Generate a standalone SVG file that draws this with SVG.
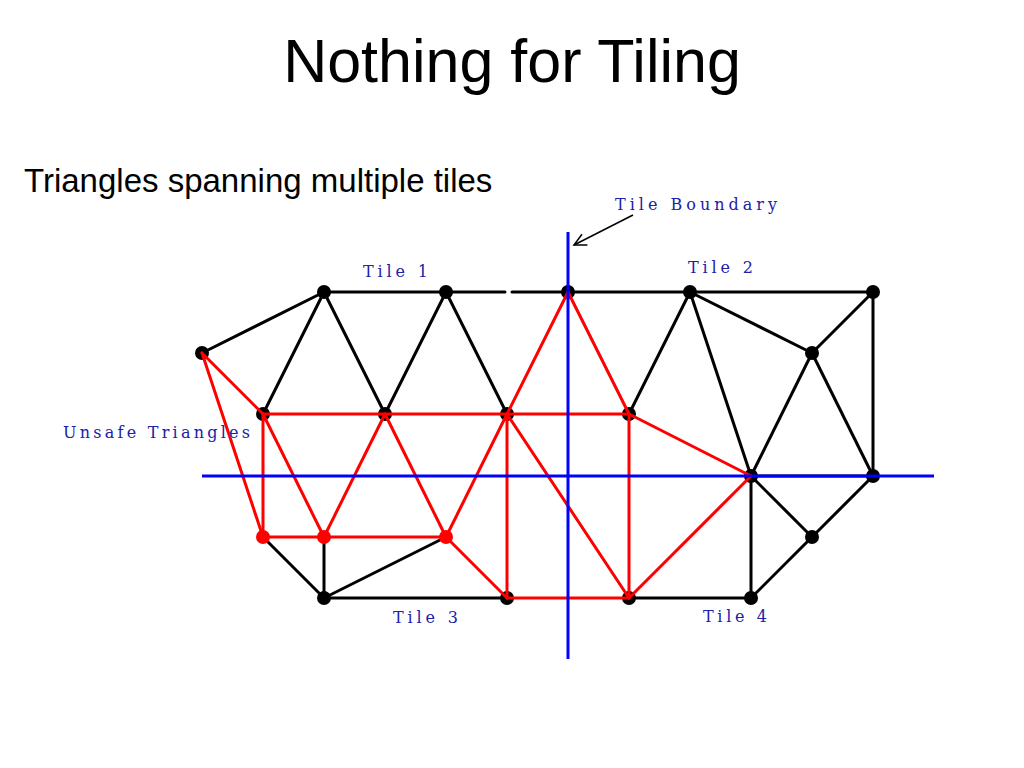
<svg xmlns="http://www.w3.org/2000/svg" width="1024" height="768" viewBox="0 0 1024 768">
<defs>
<style>
.title{font-family:"Liberation Sans",Arial,sans-serif;font-size:61px;fill:#000}
.sub{font-family:"Liberation Sans",Arial,sans-serif;font-size:33px;fill:#000}
.lbl{font-family:"DejaVu Serif","Liberation Serif",serif;font-size:16px;fill:#2020a8}
.bk{stroke:#000;stroke-width:3;fill:none;stroke-linecap:round}
.rd{stroke:#ff0000;stroke-width:3;fill:none;stroke-linecap:round}
.bl{stroke:#0000ff;stroke-width:3;fill:none}
.nb{fill:#000}
.nr{fill:#ff0000}
</style>
<marker id="arr" markerWidth="16" markerHeight="16" refX="14" refY="7" orient="auto" markerUnits="userSpaceOnUse">
<path d="M2,1 L14,7 L2,13" fill="none" stroke="#000" stroke-width="1.5"/>
</marker>
</defs>
<rect width="1024" height="768" fill="#fff"/>
<text class="title" x="512" y="82" text-anchor="middle">Nothing for Tiling</text>
<text class="sub" x="24" y="192">Triangles spanning multiple tiles</text>

<g id="connectors">
<g id="black-edges" class="bk">
<line x1="202" y1="353" x2="324" y2="292"/>
<line x1="324" y1="292" x2="446" y2="292"/>
<line x1="446" y1="292" x2="505" y2="292"/>
<line x1="512" y1="292" x2="568" y2="292"/>
<line x1="568" y1="292" x2="690" y2="292"/>
<line x1="690" y1="292" x2="873" y2="292"/>
<line x1="324" y1="292" x2="263" y2="414"/>
<line x1="324" y1="292" x2="385" y2="414"/>
<line x1="446" y1="292" x2="385" y2="414"/>
<line x1="446" y1="292" x2="507" y2="414"/>
<line x1="690" y1="292" x2="629" y2="414"/>
<line x1="690" y1="292" x2="751" y2="476"/>
<line x1="690" y1="292" x2="812" y2="353"/>
<line x1="873" y1="292" x2="812" y2="353"/>
<line x1="873" y1="292" x2="873" y2="476"/>
<line x1="812" y1="353" x2="751" y2="476"/>
<line x1="812" y1="353" x2="873" y2="476"/>
<line x1="751" y1="476" x2="873" y2="476"/>
<line x1="751" y1="476" x2="751" y2="598"/>
<line x1="751" y1="476" x2="812" y2="537"/>
<line x1="812" y1="537" x2="873" y2="476"/>
<line x1="812" y1="537" x2="751" y2="598"/>
<line x1="263" y1="537" x2="324" y2="598"/>
<line x1="324" y1="537" x2="324" y2="598"/>
<line x1="446" y1="537" x2="324" y2="598"/>
<line x1="324" y1="598" x2="507" y2="598"/>
<line x1="629" y1="598" x2="751" y2="598"/>
</g>
</g>

<g id="black-nodes">
<circle id="nA" class="nb" cx="202" cy="353" r="7"/>
<circle id="nB" class="nb" cx="324" cy="292" r="7"/>
<circle id="nC" class="nb" cx="446" cy="292" r="7"/>
<circle id="nD" class="nb" cx="568" cy="292" r="7"/>
<circle id="nE" class="nb" cx="690" cy="292" r="7"/>
<circle id="nF" class="nb" cx="873" cy="292" r="7"/>
<circle id="nG" class="nb" cx="812" cy="353" r="7"/>
<circle id="nH" class="nb" cx="263" cy="414" r="7"/>
<circle id="nI" class="nb" cx="385" cy="414" r="7"/>
<circle id="nJ" class="nb" cx="507" cy="414" r="7"/>
<circle id="nK" class="nb" cx="629" cy="414" r="7"/>
<circle id="nL" class="nb" cx="751" cy="476" r="7"/>
<circle id="nM" class="nb" cx="873" cy="476" r="7"/>
<circle id="nQ" class="nb" cx="812" cy="537" r="7"/>
<circle id="nR" class="nb" cx="324" cy="598" r="7"/>
<circle id="nS" class="nb" cx="507" cy="598" r="7"/>
<circle id="nT" class="nb" cx="629" cy="598" r="7"/>
<circle id="nU" class="nb" cx="751" cy="598" r="7"/>
</g>

<g id="red-edges" class="rd">
<line x1="202" y1="353" x2="263" y2="414"/>
<line x1="202" y1="353" x2="263" y2="537"/>
<line x1="263" y1="414" x2="629" y2="414"/>
<line x1="263" y1="414" x2="263" y2="537"/>
<line x1="263" y1="414" x2="324" y2="537"/>
<line x1="385" y1="414" x2="324" y2="537"/>
<line x1="385" y1="414" x2="446" y2="537"/>
<line x1="507" y1="414" x2="446" y2="537"/>
<line x1="507" y1="414" x2="568" y2="292"/>
<line x1="568" y1="292" x2="629" y2="414"/>
<line x1="507" y1="414" x2="507" y2="598"/>
<line x1="507" y1="414" x2="629" y2="598"/>
<line x1="629" y1="414" x2="629" y2="598"/>
<line x1="629" y1="414" x2="751" y2="476"/>
<line x1="263" y1="537" x2="446" y2="537"/>
<line x1="446" y1="537" x2="507" y2="598"/>
<line x1="507" y1="598" x2="629" y2="598"/>
<line x1="629" y1="598" x2="751" y2="476"/>
</g>

<g id="red-nodes">
<circle id="nN" class="nr" cx="263" cy="537" r="7"/>
<circle id="nO" class="nr" cx="324" cy="537" r="7"/>
<circle id="nP" class="nr" cx="446" cy="537" r="7"/>
</g>

<g id="boundaries" class="bl">
<line x1="568" y1="232" x2="568" y2="659"/>
<line x1="202" y1="476" x2="934" y2="476"/>
</g>

<g id="arrow">
<line x1="633" y1="215" x2="574" y2="245" stroke="#000" stroke-width="1.5" marker-end="url(#arr)"/>
</g>

<g id="labels">
<text class="lbl" x="615" y="210" textLength="162" lengthAdjust="spacing">Tile Boundary</text>
<text class="lbl" x="363" y="277" textLength="65" lengthAdjust="spacing">Tile 1</text>
<text class="lbl" x="688" y="273" textLength="65" lengthAdjust="spacing">Tile 2</text>
<text class="lbl" x="393" y="623" textLength="65" lengthAdjust="spacing">Tile 3</text>
<text class="lbl" x="703" y="622" textLength="64" lengthAdjust="spacing">Tile 4</text>
<text class="lbl" x="63" y="438" textLength="187" lengthAdjust="spacing">Unsafe Triangles</text>
</g>
</svg>
